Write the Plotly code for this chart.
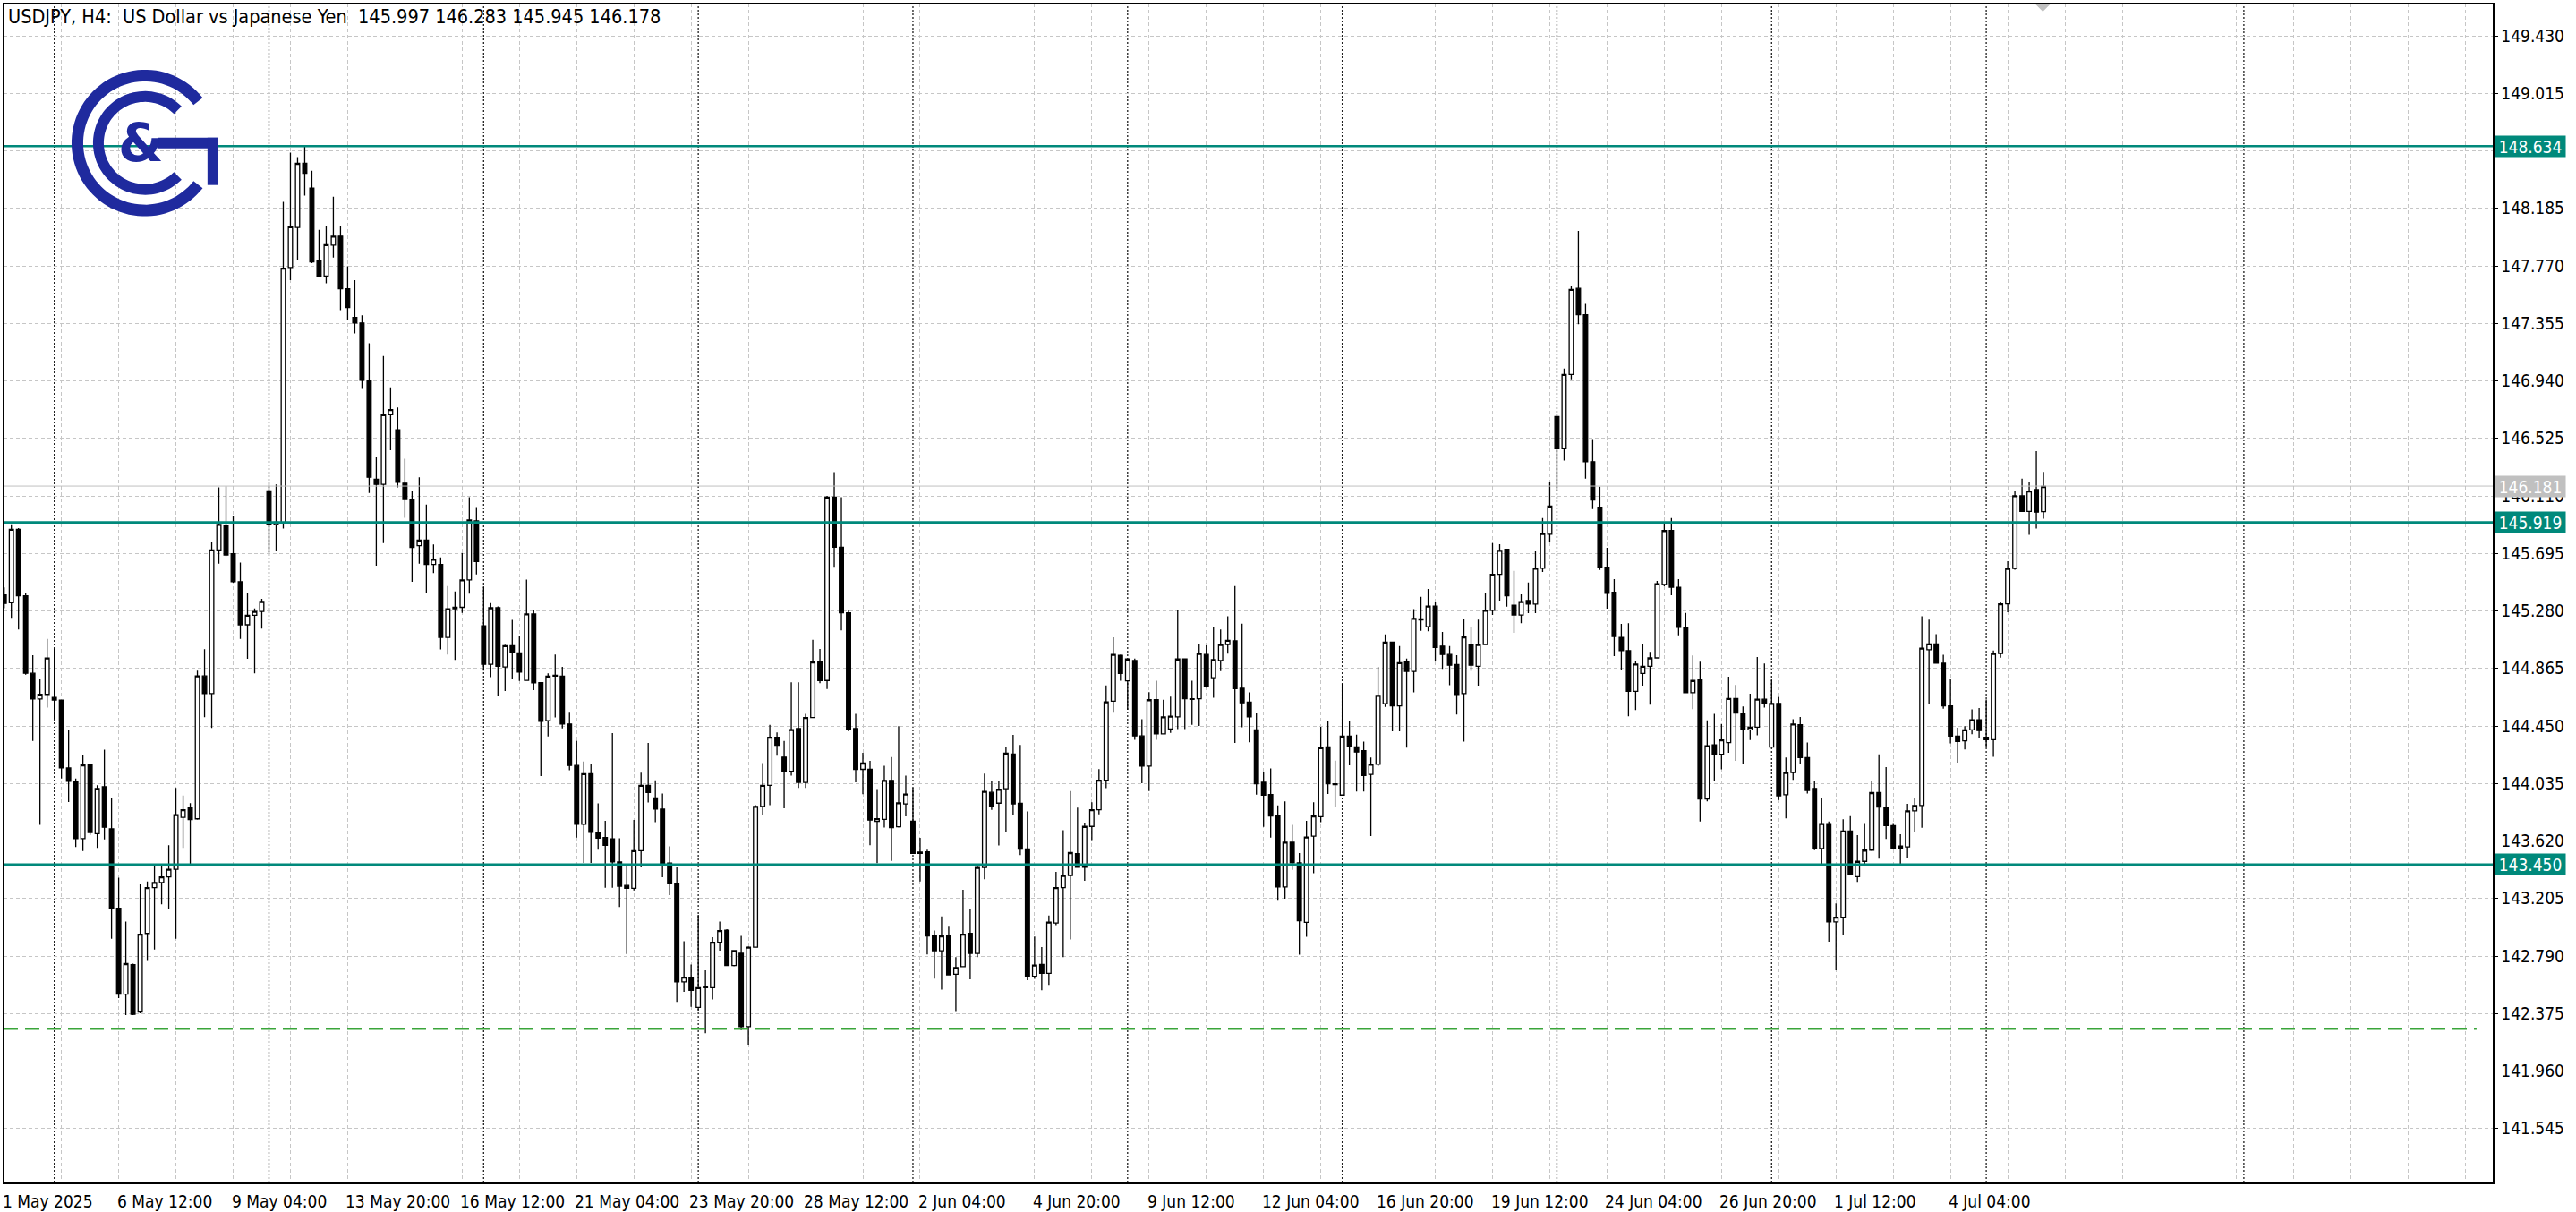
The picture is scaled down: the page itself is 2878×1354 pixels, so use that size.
import plotly.graph_objects as go
import numpy as np

# ---------------- data (H4 candles, index 0 = 1 May 2025 20:00) ----------------
OPEN = [145.395,145.340,145.869,145.389,144.830,144.645,144.678,144.656,144.637,144.147,
        144.050,143.637,144.169,143.673,144.011,143.708,143.135,142.515,142.727,142.385,
        142.953,143.284,143.320,143.361,143.416,143.791,143.860,143.780,144.811,144.684,
        145.720,145.897,145.693,145.491,145.180,145.249,145.276,146.146,145.905,145.915,
        147.759,148.047,148.510,148.331,147.809,147.697,147.920,147.985,147.605,147.398,
        147.358,146.944,146.230,146.193,146.696,146.588,146.202,146.084,145.751,145.791,
        145.615,145.615,145.089,145.296,145.306,145.504,145.930,145.173,144.895,145.303,
        144.876,145.029,144.977,144.779,145.258,144.762,144.488,144.810,144.810,144.464,
        144.165,143.741,144.106,143.683,143.645,143.636,143.469,143.299,143.278,143.550,
        144.022,143.931,143.850,143.461,143.311,142.603,142.638,142.419,142.562,142.562,
        142.889,142.977,142.722,142.810,142.280,142.854,143.870,144.022,144.369,144.225,
        144.123,144.431,144.043,144.511,144.912,144.778,146.101,145.740,145.267,144.431,
        144.137,144.137,143.762,143.776,144.057,143.723,143.888,143.763,143.540,143.541,
        142.934,142.828,142.934,142.659,142.713,142.953,142.809,143.429,143.971,143.893,
        143.997,144.247,143.892,143.562,142.643,142.730,142.665,143.028,143.283,143.370,
        143.529,143.431,143.725,143.845,144.058,144.628,144.959,144.776,144.922,144.378,
        144.160,144.639,144.393,144.428,144.515,144.933,144.646,144.646,144.966,144.798,
        144.922,145.037,145.064,144.722,144.622,144.422,144.044,143.955,143.800,143.288,
        143.611,143.462,143.033,143.655,143.795,144.299,144.033,143.951,144.377,144.299,
        144.271,144.100,144.173,144.611,145.055,144.595,144.915,144.844,145.222,145.166,
        145.315,145.026,144.966,144.893,144.684,145.040,144.881,145.037,145.285,145.544,
        145.725,145.322,145.251,145.355,145.329,145.588,145.834,146.683,146.450,146.986,
        147.608,147.418,146.357,146.028,145.596,145.415,145.088,144.993,144.700,144.829,
        144.881,144.941,145.471,145.860,145.451,145.161,144.690,144.786,143.923,144.314,
        144.245,144.330,144.648,144.537,144.422,144.441,144.643,144.298,144.613,143.953,
        144.114,144.459,144.222,143.999,143.566,143.745,143.036,143.070,143.692,143.363,
        143.473,143.554,143.969,143.865,143.731,143.570,143.577,143.837,143.876,145.000,
        145.042,144.903,144.595,144.377,144.343,144.422,144.495,144.369,144.351,144.973,
        145.331,145.586,146.111,145.998,146.156,145.997]
HIGH = [145.450,145.905,145.877,145.409,144.960,144.789,145.078,145.009,144.640,144.425,
        144.070,144.237,144.177,144.022,144.279,143.929,143.355,143.039,142.735,143.306,
        143.328,143.438,143.438,143.590,144.003,143.948,143.893,144.849,145.004,145.781,
        146.172,146.180,145.968,145.629,145.409,145.298,145.367,146.193,146.193,148.232,
        148.587,148.556,148.643,148.457,148.031,148.056,148.269,148.056,147.768,147.667,
        147.413,147.212,146.394,147.120,146.894,146.749,146.378,146.146,146.245,146.047,
        145.760,145.667,145.460,145.420,145.698,146.100,146.029,145.451,145.337,145.312,
        145.036,145.215,145.101,145.506,145.287,144.762,144.829,144.965,144.876,144.552,
        144.344,144.194,144.177,143.891,143.765,144.399,143.640,143.438,143.772,144.113,
        144.328,144.058,143.963,143.581,143.430,142.896,142.729,143.087,142.686,142.925,
        143.039,142.984,142.830,142.936,142.860,143.878,144.182,144.458,144.404,144.342,
        144.765,144.765,144.538,145.072,145.005,146.110,146.282,146.101,145.286,144.538,
        144.257,144.198,143.995,144.163,144.225,144.449,144.091,144.003,143.642,143.557,
        142.974,143.076,143.001,142.782,143.268,143.129,143.450,144.106,144.051,144.051,
        144.302,144.385,144.313,143.834,142.930,142.854,143.083,143.398,143.697,143.980,
        143.860,143.753,143.899,144.139,144.742,145.090,144.966,144.937,144.937,144.498,
        144.694,144.776,144.639,144.661,145.286,144.937,144.776,145.042,145.031,145.162,
        145.147,145.242,145.460,145.188,144.693,144.544,144.115,144.144,143.877,143.906,
        143.737,143.533,143.766,143.900,144.444,144.484,144.200,144.755,144.488,144.388,
        144.337,144.222,144.877,145.111,145.055,145.026,144.937,145.293,145.382,145.439,
        145.344,145.128,145.026,144.960,145.226,145.161,145.218,145.407,145.769,145.762,
        145.725,145.570,145.399,145.485,145.717,145.951,146.209,146.683,147.030,147.626,
        148.022,147.496,146.520,146.176,145.736,145.510,145.187,145.192,144.915,145.044,
        144.985,145.497,145.912,145.951,145.510,145.265,144.959,144.913,144.491,144.537,
        144.464,144.805,144.745,144.590,144.683,144.947,144.901,144.782,144.660,144.222,
        144.498,144.514,144.330,144.054,143.934,143.761,143.170,143.777,143.800,143.662,
        143.750,144.049,144.245,144.153,143.750,143.669,143.888,143.929,145.242,145.218,
        145.113,144.963,144.790,144.438,144.448,144.569,144.579,144.640,144.994,145.341,
        145.638,146.145,146.234,146.208,146.434,146.283]
LOW = [145.300,145.230,145.147,144.820,144.342,143.736,144.582,144.499,144.070,143.901,
       143.576,143.548,143.664,143.570,143.631,142.914,142.487,142.363,142.363,142.377,
       142.755,142.837,143.163,143.130,142.914,143.570,143.452,143.774,144.513,144.436,
       145.621,145.676,145.483,145.078,144.935,144.830,145.152,145.698,145.714,145.874,
       147.667,147.815,148.278,147.790,147.691,147.645,147.830,147.450,147.376,147.283,
       146.882,146.131,145.606,145.769,146.440,146.171,145.952,145.491,145.621,145.411,
       145.553,145.003,144.966,144.926,145.266,145.405,145.544,144.849,144.802,144.663,
       144.702,144.786,144.774,144.779,144.709,144.089,144.375,144.511,144.433,144.130,
       143.645,143.462,143.462,143.557,143.282,143.282,143.144,142.805,143.263,143.430,
       143.898,143.755,143.359,143.230,142.459,142.531,142.424,142.400,142.233,142.476,
       142.829,142.720,142.715,142.256,142.150,142.850,143.808,143.878,144.236,143.856,
       144.091,144.003,144.003,144.510,144.759,144.717,145.598,145.139,144.412,144.043,
       143.958,143.589,143.461,143.717,143.477,143.717,143.797,143.530,143.327,142.801,
       142.627,142.547,142.654,142.387,142.713,142.622,142.782,143.344,143.845,143.588,
       143.681,143.806,143.518,142.615,142.626,142.543,142.582,143.013,142.782,142.909,
       143.431,143.333,143.627,143.812,144.001,144.552,144.776,144.567,144.350,144.036,
       143.980,144.350,144.393,144.400,144.428,144.428,144.459,144.450,144.726,144.654,
       144.846,144.972,144.328,144.440,144.333,143.955,143.722,143.644,143.189,143.204,
       143.411,142.800,142.929,143.388,143.755,143.960,143.862,143.951,144.166,143.977,
       143.977,143.655,144.160,144.588,144.411,144.411,144.293,144.693,145.137,145.133,
       144.922,144.862,144.744,144.533,144.337,144.848,144.741,145.037,145.251,145.355,
       145.311,145.122,145.192,145.264,145.264,145.562,145.777,146.145,146.365,146.952,
       147.349,146.235,146.015,145.575,145.296,144.954,144.855,144.519,144.565,144.741,
       144.604,144.941,145.458,145.394,145.104,144.690,144.571,143.761,143.906,144.054,
       144.137,144.256,144.199,144.176,144.349,144.383,144.583,144.298,143.916,143.784,
       144.061,144.176,143.962,143.554,143.450,142.893,142.686,142.939,143.377,143.324,
       143.450,143.547,143.492,143.635,143.570,143.450,143.497,143.681,143.715,144.606,
       144.900,144.574,144.325,144.185,144.280,144.390,144.364,144.298,144.227,144.942,
       145.270,145.578,145.998,145.830,145.875,145.945]
CLOSE = [145.334,145.869,145.389,144.830,144.645,144.678,144.940,144.637,144.147,144.050,
         143.637,144.169,143.681,143.998,143.719,143.135,142.515,142.735,142.369,142.948,
         143.284,143.320,143.361,143.416,143.810,143.846,143.774,144.811,144.684,145.720,
         145.905,145.684,145.491,145.180,145.249,145.276,145.348,145.905,145.920,147.753,
         148.053,148.510,148.439,147.799,147.697,147.923,147.985,147.605,147.469,147.358,
         146.944,146.245,146.193,146.696,146.733,146.208,146.084,145.738,145.791,145.615,
         145.652,145.089,145.296,145.306,145.504,145.936,145.637,144.895,145.303,144.880,
         145.029,144.981,144.838,145.258,144.762,144.483,144.809,144.815,144.464,144.165,
         143.741,144.106,143.683,143.640,143.588,143.469,143.294,143.278,143.550,144.022,
         143.970,143.850,143.454,143.311,142.603,142.638,142.543,142.562,142.567,142.889,
         142.973,142.722,142.829,142.280,142.854,143.870,144.022,144.369,144.310,144.123,
         144.423,144.043,144.511,144.912,144.778,146.101,145.740,145.267,144.423,144.137,
         144.182,143.771,143.781,144.057,143.717,143.896,143.958,143.530,143.530,142.934,
         142.828,142.934,142.654,142.707,142.948,142.809,143.429,143.978,143.871,143.993,
         144.254,143.888,143.562,142.643,142.724,142.665,143.035,143.283,143.370,143.536,
         143.431,143.725,143.845,144.058,144.624,144.966,144.829,144.933,144.378,144.160,
         144.639,144.393,144.515,144.520,144.933,144.646,144.642,144.972,144.733,144.929,
         145.037,145.068,144.720,144.617,144.515,144.033,143.951,143.800,143.288,143.611,
         143.462,143.044,143.648,143.800,144.293,144.033,144.027,144.377,144.299,144.262,
         144.093,144.173,144.671,145.055,144.595,144.906,144.844,145.226,145.215,145.315,
         145.017,144.966,144.888,144.677,145.093,144.888,145.037,145.285,145.544,145.717,
         145.389,145.251,145.347,145.329,145.588,145.839,146.036,146.450,146.986,147.600,
         147.418,146.357,146.080,145.596,145.407,145.096,144.993,144.700,144.897,144.881,
         144.941,145.477,145.860,145.451,145.161,144.690,144.778,143.923,144.307,144.245,
         144.349,144.648,144.544,144.422,144.441,144.643,144.613,144.613,143.946,144.114,
         144.464,144.222,143.985,143.566,143.745,143.036,143.070,143.692,143.377,143.473,
         143.554,143.969,143.865,143.731,143.570,143.584,143.837,143.876,145.012,145.042,
         144.903,144.595,144.377,144.338,144.422,144.495,144.417,144.351,144.973,145.331,
         145.586,146.111,145.998,146.145,145.993,146.178]

X_LABEL_IDX = [0, 16, 32, 48, 64, 80, 96, 112, 128, 144, 160, 176, 192, 208, 224, 240, 256, 272]
X_LABELS = ["1 May 2025", "6 May 12:00", "9 May 04:00", "13 May 20:00", "16 May 12:00",
            "21 May 04:00", "23 May 20:00", "28 May 12:00", "2 Jun 04:00", "4 Jun 20:00",
            "9 Jun 12:00", "12 Jun 04:00", "16 Jun 20:00", "19 Jun 12:00", "24 Jun 04:00",
            "26 Jun 20:00", "1 Jul 12:00", "4 Jul 04:00"]
Y_TICKS = [149.430, 149.015, 148.600, 148.185, 147.770, 147.355, 146.940, 146.525, 146.110,
           145.695, 145.280, 144.865, 144.450, 144.035, 143.620, 143.205, 142.790, 142.375,
           141.960, 141.545]
WEEK_STARTS = [7, 37, 67, 97, 127, 157, 187, 217, 247, 277, 313]
TEAL_LEVELS = [148.634, 145.919, 143.450]
BID_LEVEL = 146.181
GREEN_LEVEL = 142.262
TITLE = "USDJPY, H4:  US Dollar vs Japanese Yen  145.997 146.283 145.945 146.178"

# ---------------- geometry / styles ----------------
W, H = 2878, 1354
PL, PR, PT, PB = 2, 2785, 2, 1321          # plot area in pixels
XR = [-0.0875, 347.7875]
YR = [141.1557, 149.6632]
FONT = "Liberation Sans Narrow, DejaVu Sans Condensed, Arial Narrow, Liberation Sans, sans-serif"
FS_TITLE = 21.5
FS_AX = 19
GRID = "#c6c6c6"
TEAL = "#00897b"
NAVY = "#1f2a9e"


def px2paper(x, y):
    return (x - PL) / (PR - PL), (PB - y) / (PB - PT)


def poly_path(points):
    s = ""
    for k, (x, y) in enumerate(points):
        xp, yp = px2paper(x, y)
        s += ("M" if k == 0 else "L") + f"{xp:.6f},{yp:.6f} "
    return s + "Z"


def arc_points(cx, cy, r1, r2, a0, a1, n=80):
    a = np.radians(np.linspace(a0, a1, n))
    outer = [(cx + r2 * np.cos(t), cy - r2 * np.sin(t)) for t in a]
    inner = [(cx + r1 * np.cos(t), cy - r1 * np.sin(t)) for t in a[::-1]]
    return outer + inner


idx = list(range(len(OPEN)))
fig = go.Figure()
fig.add_trace(go.Candlestick(
    x=idx, open=OPEN, high=HIGH, low=LOW, close=CLOSE,
    increasing=dict(line=dict(color="black", width=1.3), fillcolor="white"),
    decreasing=dict(line=dict(color="black", width=1.3), fillcolor="black"),
    whiskerwidth=0, hoverinfo="skip", showlegend=False))

shapes = []
# weekly separators (dotted)
for w in WEEK_STARTS:
    shapes.append(dict(type="line", xref="x", yref="paper", x0=w, x1=w, y0=0, y1=1,
                       line=dict(color="#202020", width=1.3, dash="2px,2px"), layer="below"))
# bid line
shapes.append(dict(type="line", xref="paper", yref="y", x0=0, x1=1, y0=BID_LEVEL, y1=BID_LEVEL,
                   line=dict(color="#c0c0c0", width=1)))
# teal horizontal levels
for lv in TEAL_LEVELS:
    shapes.append(dict(type="line", xref="paper", yref="y", x0=0, x1=1, y0=lv, y1=lv,
                       line=dict(color=TEAL, width=2.6)))
# green dashed level
shapes.append(dict(type="line", xref="paper", yref="y", x0=0, x1=0.9935, y0=GREEN_LEVEL, y1=GREEN_LEVEL,
                   line=dict(color="#3aa53a", width=1.4, dash="16px,8px")))
# chart shift marker
shapes.append(dict(type="path", xref="paper", yref="paper",
                   path=poly_path([(2274, 3), (2290, 3), (2282, 11)]),
                   fillcolor="#c0c0c0", line=dict(width=0)))
# logo
cx, cy = 160, 158
for pts in (arc_points(cx, cy, 69, 82, 38, 322), arc_points(cx, cy, 46, 58, 45, 315)):
    shapes.append(dict(type="path", xref="paper", yref="paper", path=poly_path(pts),
                       fillcolor=NAVY, line=dict(width=0)))
shapes.append(dict(type="path", xref="paper", yref="paper",
                   path=poly_path([(175, 152), (242, 152), (242, 164), (175, 164)]),
                   fillcolor=NAVY, line=dict(width=0)))
shapes.append(dict(type="path", xref="paper", yref="paper",
                   path=poly_path([(230, 152), (242, 152), (242, 205), (230, 205)]),
                   fillcolor=NAVY, line=dict(width=0)))

annotations = []
annotations.append(dict(xref="paper", yref="paper", x=px2paper(5, 0)[0], y=px2paper(0, 17)[1],
                        xanchor="left", yanchor="middle", text=TITLE, showarrow=False,
                        font=dict(family=FONT, size=FS_TITLE, color="black")))
annotations.append(dict(xref="paper", yref="paper", x=px2paper(cx - 4, 0)[0], y=px2paper(0, cy)[1],
                        xanchor="center", yanchor="middle", text="<b>&</b>", showarrow=False,
                        font=dict(family="DejaVu Sans", size=58, color=NAVY)))
for i, t in zip(X_LABEL_IDX, X_LABELS):
    annotations.append(dict(xref="x", yref="paper", x=i, y=px2paper(0, 1342)[1], xanchor="left",
                            yanchor="middle", text=t, showarrow=False, xshift=-4,
                            font=dict(family=FONT, size=FS_AX, color="black")))
box_x = px2paper(2787, 0)[0]
for lv in TEAL_LEVELS:
    annotations.append(dict(xref="paper", yref="y", x=box_x, y=lv, xanchor="left", yanchor="middle",
                            text=f"{lv:.3f}", showarrow=False, bgcolor=TEAL, width=76, height=21,
                            borderpad=1, align="center",
                            font=dict(family=FONT, size=FS_AX, color="white")))
annotations.append(dict(xref="paper", yref="y", x=box_x, y=BID_LEVEL, xanchor="left", yanchor="middle",
                        text=f"{BID_LEVEL:.3f}", showarrow=False, bgcolor="#c0c0c0", width=76, height=21,
                        borderpad=1, align="center",
                        font=dict(family=FONT, size=FS_AX, color="white")))

grid_vals = list(range(0, 348, 8))
fig.update_layout(
    width=W, height=H,
    margin=dict(l=PL, r=W - PR, t=PT, b=H - PB, pad=0),
    paper_bgcolor="white", plot_bgcolor="white", showlegend=False,
    boxgap=0.42, boxgroupgap=0,
    font=dict(family=FONT, size=FS_AX, color="black"),
    xaxis=dict(range=XR, rangeslider=dict(visible=False), showticklabels=False,
               tickmode="array", tickvals=grid_vals, ticks="",
               showgrid=True, gridcolor=GRID, gridwidth=1, griddash="4px,3px",
               showline=True, linecolor="black", linewidth=1.5, mirror=True,
               zeroline=False, fixedrange=True),
    yaxis=dict(side="right", range=YR, tickmode="array", tickvals=Y_TICKS,
               ticktext=[f"{v:.3f}" for v in Y_TICKS], ticks="outside", ticklen=4,
               tickcolor="black", tickwidth=1,
               tickfont=dict(family=FONT, size=FS_AX, color="black"),
               showgrid=True, gridcolor=GRID, gridwidth=1, griddash="4px,3px",
               showline=True, linecolor="black", linewidth=1.5, mirror=True,
               zeroline=False, fixedrange=True),
    shapes=shapes, annotations=annotations,
)

fig.write_html("out.html", config={"displayModeBar": False, "staticPlot": True},
               post_script="document.body.style.margin='0';document.body.style.overflow='hidden';")
